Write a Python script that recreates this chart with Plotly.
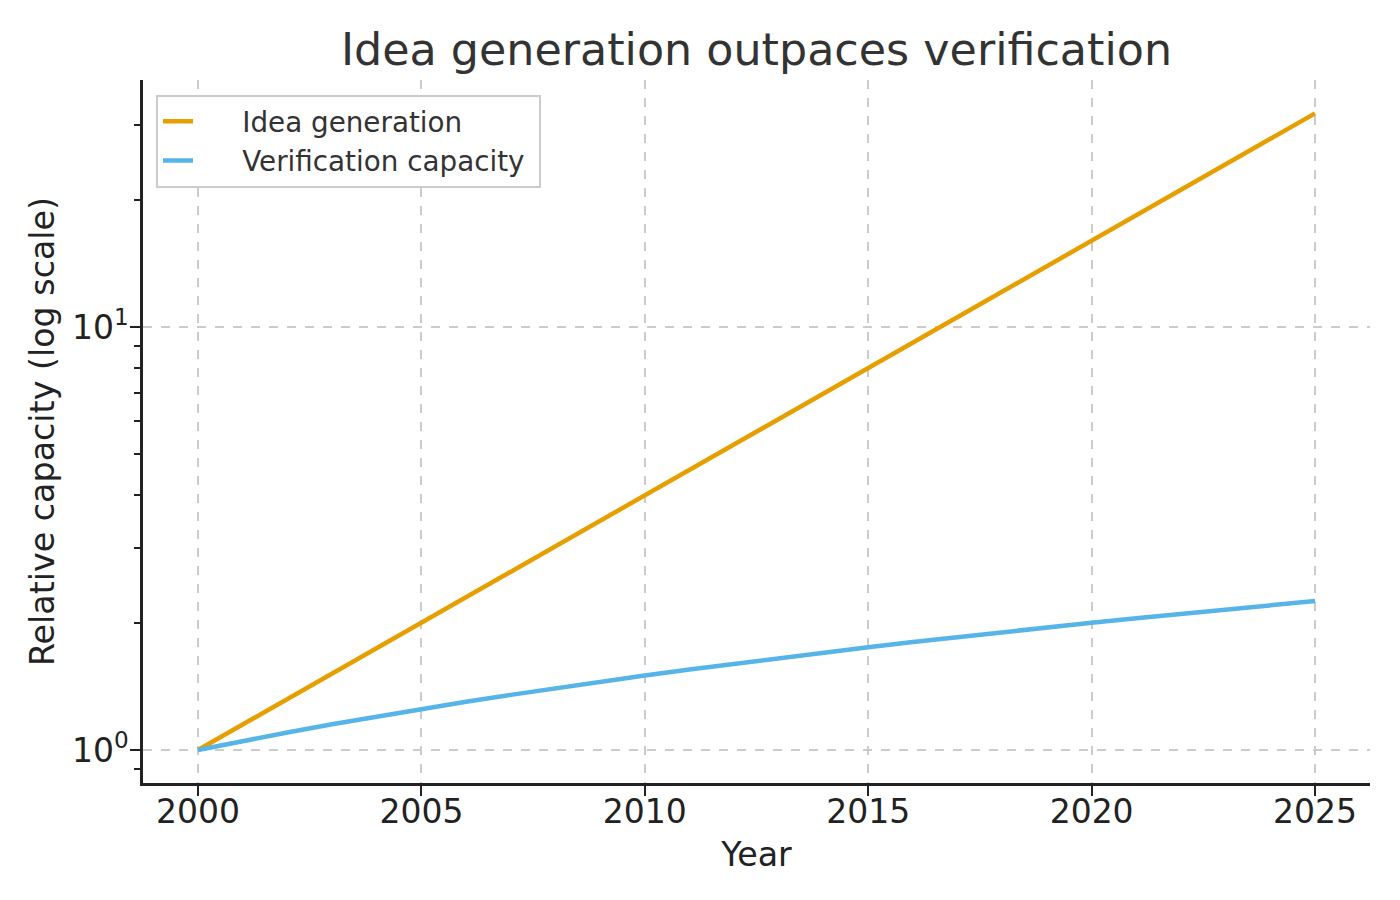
import plotly.graph_objects as go

years = list(range(2000, 2026))
idea_generation = [1.0, 1.149, 1.320, 1.516, 1.741, 2.0, 2.297, 2.639, 3.031, 3.482,
                   4.0, 4.595, 5.278, 6.063, 6.964, 8.0, 9.190, 10.556, 12.126, 13.929,
                   16.0, 18.379, 21.112, 24.251, 27.858, 32.0]
verification_capacity = [1.0, 1.05, 1.10, 1.15, 1.20, 1.25, 1.30, 1.35, 1.40, 1.45,
                         1.50, 1.55, 1.60, 1.65, 1.70, 1.75, 1.80, 1.85, 1.90, 1.95,
                         2.00, 2.05, 2.10, 2.15, 2.20, 2.25]
x_ticks = [2000, 2005, 2010, 2015, 2020, 2025]
y_ticks = [1, 10]
y_ticktext = ["10<sup>0</sup>", "10<sup>1</sup>"]
y_minor = [0.9, 2, 3, 4, 5, 6, 7, 8, 9, 20, 30, 40]
series_names = ["Idea generation", "Verification capacity"]

FONT = "DejaVu Sans"
NB = "\u00a0"
fig = go.Figure()
fig.add_trace(go.Scatter(x=years, y=idea_generation, mode="lines", name=NB * 5 + series_names[0] + NB,
                         line=dict(color="#E69F00", width=4.5)))
fig.add_trace(go.Scatter(x=years, y=verification_capacity, mode="lines", name=NB * 5 + series_names[1] + NB,
                         line=dict(color="#56B4E9", width=4.5)))

axis_common = dict(showline=True, linecolor="#222222", linewidth=2.5, ticks="outside",
                   ticklen=10, tickwidth=2, tickcolor="#222222", showgrid=True,
                   gridcolor="#cccccc", griddash="dash", gridwidth=1.5, zeroline=False,
                   tickfont=dict(family=FONT, size=33, color="#222222"), mirror=False)

fig.update_layout(
    width=1400, height=900,
    margin=dict(l=135, r=38, t=72, b=125),
    paper_bgcolor="white", plot_bgcolor="white",
    title=dict(text="Idea generation outpaces verification", x=0.5, xref="paper",
               y=1 - 41 / 900, yanchor="middle",
               font=dict(family=FONT, size=44.4, color="#333333")),
    xaxis=dict(**axis_common, range=[1998.77, 2026.23], tickvals=x_ticks, ticklabelstandoff=-12,
               title=dict(text="Year", font=dict(family=FONT, size=33.3, color="#222222"), standoff=13)),
    yaxis=dict(**axis_common, type="log", range=[-0.078, 1.584], tickvals=y_ticks, ticktext=y_ticktext,
               ticklabelstandoff=-5,
               minor=dict(tickvals=y_minor, ticks="outside", ticklen=6, tickwidth=1.5,
                          tickcolor="#222222", showgrid=False),
               title=dict(text="Relative capacity (log scale)",
                          font=dict(family=FONT, size=33.3, color="#222222"), standoff=8)),
    legend=dict(x=0.0106, y=0.979, xanchor="left", yanchor="top", bgcolor="white",
                bordercolor="#cccccc", borderwidth=2, tracegroupgap=0,
                font=dict(family=FONT, size=27.8, color="#333333")),
    showlegend=True,
)

fig.write_html("out.html")
